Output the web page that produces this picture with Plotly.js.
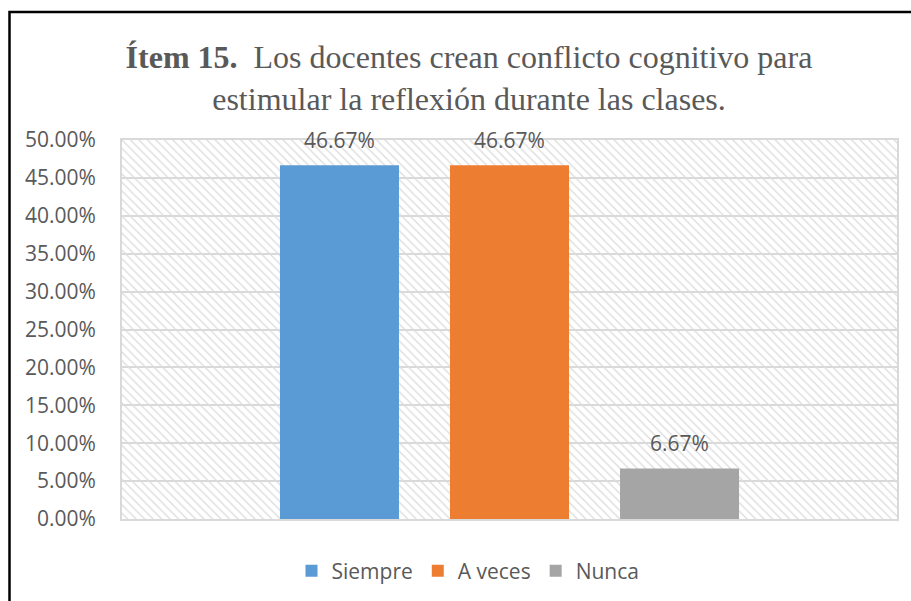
<!DOCTYPE html>
<html>
<head>
<meta charset="utf-8">
<script src="https://cdn.plot.ly/plotly-3.0.1.min.js"></script>
<style>
  html, body { margin: 0; padding: 0; background: #ffffff; }
  #chart { width: 911px; height: 601px; }
</style>
</head>
<body>
<div id="chart"></div>
<script>
// ---- data ----
const categories = ['Siempre', 'A veces', 'Nunca'];
const values = [0.4667, 0.4667, 0.0667];
const labels = ['46.67%', '46.67%', '6.67%'];
const colors = ['#5b9bd5', '#ed7d31', '#a5a5a5'];
const yTickVals = [0, 0.05, 0.10, 0.15, 0.20, 0.25, 0.30, 0.35, 0.40, 0.45, 0.50];
const yMax = 0.5;

const textColor = '#595959';
const font = 'Open Sans, Noto Sans, sans-serif';

// background hatch (plot-area fill, not a data mark)
const traces = [{
  type: 'bar',
  x: [categories[1]],
  y: [yMax],
  width: [6],
  marker: {
    color: 'rgba(0,0,0,0)',
    line: { width: 0 },
    pattern: { shape: '\\', fgcolor: '#dcdcdc', bgcolor: 'rgba(0,0,0,0)', size: 6, solidity: 0.22 }
  },
  hoverinfo: 'skip',
  showlegend: false
}];

categories.forEach((c, i) => {
  traces.push({
    type: 'bar',
    name: c,
    x: [c],
    y: [values[i]],
    marker: { color: colors[i], line: { width: 0 } },
    hovertemplate: '%{x}: %{y:.2%}<extra></extra>'
  });
});

const annotations = categories.map((c, i) => ({
  x: c, y: values[i], xref: 'x', yref: 'y',
  text: labels[i], showarrow: false,
  yanchor: 'middle', yshift: 25,
  font: { family: font, size: 21, color: textColor }
}));

const layout = {
  width: 911, height: 601,
  paper_bgcolor: '#ffffff',
  plot_bgcolor: '#ffffff',
  margin: { l: 122, r: 14, t: 140, b: 82 },
  barmode: 'overlay',
  bargap: 0.3,
  title: {
    text: '<b>Ítem 15.</b>\u00a0 Los docentes crean conflicto cognitivo para<br>estimular la reflexión durante las clases.',
    font: { family: 'Liberation Serif, Times New Roman, serif', size: 32, color: textColor },
    xref: 'container', x: 469 / 911, xanchor: 'center',
    yref: 'container', y: 1 - 68 / 601, yanchor: 'top'
  },
  xaxis: {
    type: 'category',
    categoryorder: 'array', categoryarray: categories,
    range: [-1.279, 3.279],
    showticklabels: false, ticks: '',
    showgrid: false, zeroline: false,
    showline: true, mirror: true, linecolor: '#d9d9d9', linewidth: 2,
    fixedrange: true
  },
  yaxis: {
    range: [0, yMax],
    tickvals: yTickVals,
    tickformat: '.2%',
    ticks: '',
    ticklabelstandoff: 20,
    tickfont: { family: font, size: 21, color: textColor },
    showgrid: true, gridcolor: '#d9d9d9', gridwidth: 2,
    zeroline: false,
    showline: true, mirror: true, linecolor: '#d9d9d9', linewidth: 2,
    fixedrange: true
  },
  showlegend: true,
  legend: {
    orientation: 'h',
    xref: 'container', x: 468 / 911, xanchor: 'center',
    yref: 'container', y: 1 - 571 / 601, yanchor: 'middle',
    font: { family: font, size: 21, color: textColor },
    itemclick: false, itemdoubleclick: false
  },
  annotations: annotations,
  shapes: [{
    type: 'rect', xref: 'paper', yref: 'paper',
    x0: (9.5 - 122) / 775, x1: 1.3,
    y0: -0.5, y1: 1 + (140 - 12) / 379,
    line: { color: '#000000', width: 2.5 },
    fillcolor: 'rgba(0,0,0,0)',
    layer: 'above'
  }]
};

Plotly.newPlot('chart', traces, layout, { displayModeBar: false, staticPlot: true });
</script>
</body>
</html>
